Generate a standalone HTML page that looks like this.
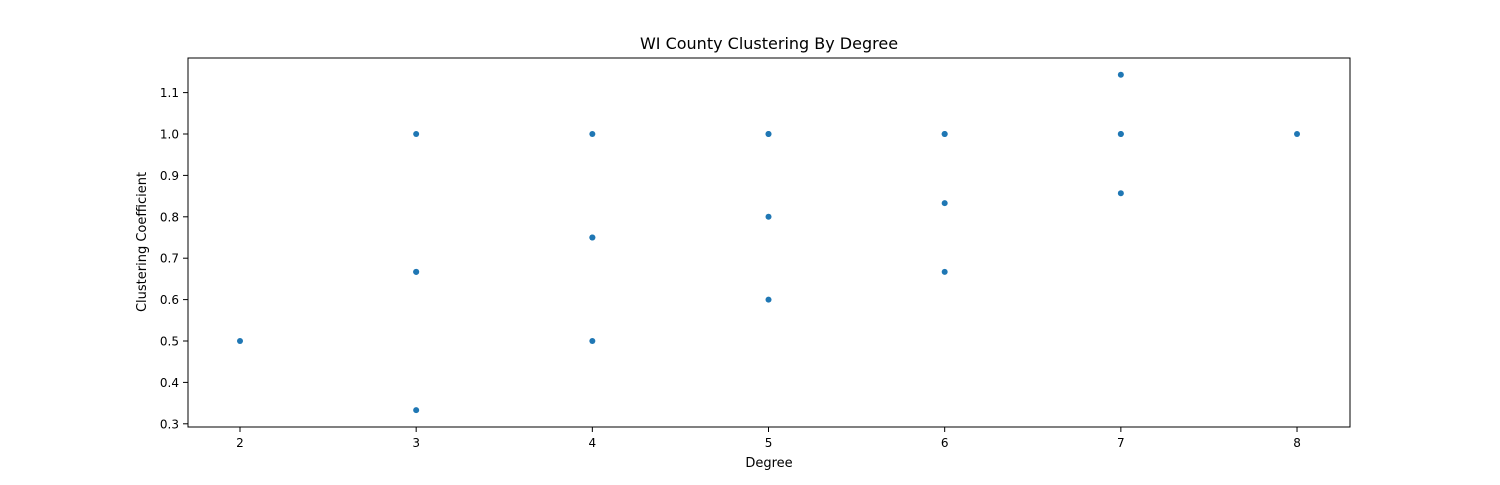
<!DOCTYPE html>
<html><head><meta charset="utf-8"><style>
body{margin:0;background:#fff;font-family:"Liberation Sans","DejaVu Sans",sans-serif}
svg text{font-family:"DejaVu Sans","Liberation Sans",sans-serif;fill:#000}
</style></head><body>
<svg id="chart" width="1500" height="480">
<text x="769" y="49" font-size="16" text-anchor="middle">WI County Clustering By Degree</text>
<g id="ticks"></g>
<g id="points"></g>
<rect x="188" y="58" width="1162" height="369" fill="none" stroke="#000" stroke-width="1"/>
<text x="769" y="467" font-size="13" text-anchor="middle">Degree</text>
<text transform="translate(146,242) rotate(-90)" font-size="13" text-anchor="middle">Clustering Coefficient</text>
</svg>
<script>
const degrees=[2,3,3,3,3,4,4,4,4,5,5,5,5,6,6,6,6,7,7,7,7,8];
const coeffs=[0.5,1,0.667,0.667,0.333,1,0.75,0.75,0.5,1,1,0.8,0.6,1,1,0.833,0.667,1.143,1,1,0.857,1];
const xTicks=[2,3,4,5,6,7,8];
const yTicks=[0.3,0.4,0.5,0.6,0.7,0.8,0.9,1.0,1.1];
const NS="http://www.w3.org/2000/svg";
function xs(v){return 240+(v-2)*176.17;}
function ys(v){return 341-(v-0.5)*414;}
const t=document.getElementById('ticks'),p=document.getElementById('points');
xTicks.forEach(v=>{
 const l=document.createElementNS(NS,'line');
 l.setAttribute('x1',xs(v));l.setAttribute('x2',xs(v));l.setAttribute('y1',427);l.setAttribute('y2',432);l.setAttribute('stroke','#000');
 
 
 t.appendChild(l);
 const tx=document.createElementNS(NS,'text');
 tx.setAttribute('x',xs(v));tx.setAttribute('y',447);tx.setAttribute('font-size','12');tx.setAttribute('text-anchor','middle');tx.textContent=v;
 
 
 t.appendChild(tx);
});
yTicks.forEach(v=>{
 const l=document.createElementNS(NS,'line');
 l.setAttribute('x1',183);l.setAttribute('x2',188);l.setAttribute('y1',ys(v));l.setAttribute('y2',ys(v));l.setAttribute('stroke','#000');
 
 
 t.appendChild(l);
 const tx=document.createElementNS(NS,'text');
 tx.setAttribute('x',179);tx.setAttribute('y',ys(v)+4.5);tx.setAttribute('font-size','12');tx.setAttribute('text-anchor','end');tx.textContent=v.toFixed(1);
 
 
 t.appendChild(tx);
});
degrees.forEach((d,i)=>{
 const c=document.createElementNS(NS,'circle');
 c.setAttribute('cx',xs(d));c.setAttribute('cy',ys(coeffs[i]));c.setAttribute('r',3);c.setAttribute('fill','#1f77b4');
 
 
 p.appendChild(c);
});
</script>
</body></html>
